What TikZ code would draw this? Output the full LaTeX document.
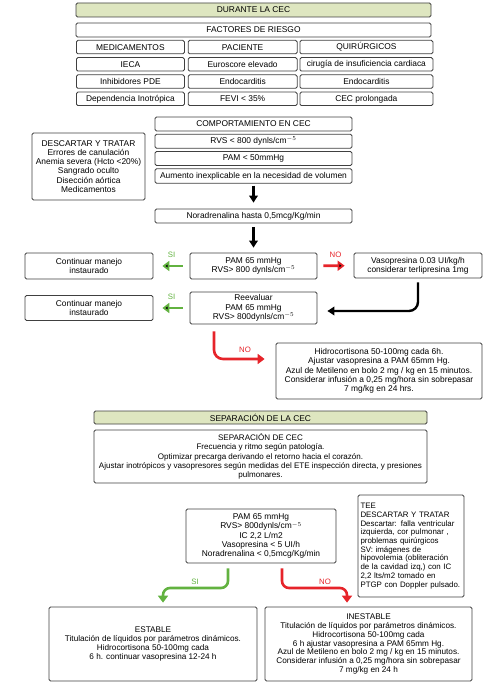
\documentclass[tikz,border=0pt]{standalone}
\usepackage{fontspec}
\setmainfont{Liberation Sans}
\usepackage{tikz}
\usetikzlibrary{arrows.meta,positioning}
\definecolor{headgreen}{RGB}{222,230,192}
\definecolor{sigreen}{RGB}{98,178,64}
\definecolor{nored}{RGB}{230,36,42}
\tikzset{box/.style={draw=black!75,line width=0.75pt,rounded corners=1.5pt,fill=white,align=center,inner sep=1pt,font=\fontsize{8.4}{9.2}\selectfont},
	head box/.style={box,fill=headgreen},
	cell/.style={box,minimum height=13.5pt},
	small box/.style={box,font=\fontsize{8.2}{8.9}\selectfont},
	down arrow/.style={draw,line width=2.4pt,-{Triangle[length=7pt,width=8.5pt]}},
	si arrow/.style={draw=sigreen,line width=2.6pt,-{Triangle[length=7pt,width=10pt]}},
	no arrow/.style={draw=nored,line width=2.6pt,-{Triangle[length=7pt,width=10pt]}},
	si label/.style={text=sigreen,font=\fontsize{7.8}{9}\selectfont,inner sep=1pt},
	no label/.style={text=nored,font=\fontsize{7.8}{9}\selectfont,inner sep=1pt},
}

\begin{document}
\begin{tikzpicture}[x=1pt,y=-1pt]
		\useasboundingbox (0,0) rectangle (500,684);
		% durante la CEC
		\node[head box,minimum width=355pt,minimum height=14pt] (durante) at (253.5,10) {DURANTE LA CEC};
		\node[box,minimum width=355pt,minimum height=14pt] (riesgo) at (253.5,30) {FACTORES DE RIESGO};
		
		\node[cell,minimum width=108pt,anchor=north west] (med) at (76,40) {MEDICAMENTOS};
		\node[cell,minimum width=109pt] (pac) [right=3pt of med] {PACIENTE};
		\node[cell,minimum width=133pt] (qui) [right=2pt of pac] {QUIRÚRGICOS};
		\node[cell,minimum width=108pt] (ieca) [below=3pt of med] {IECA};
		\node[cell,minimum width=109pt] (euro) [below=3pt of pac] {Euroscore elevado};
		\node[cell,minimum width=133pt] (cirugia) [below=3pt of qui] {cirugía de insuficiencia cardiaca};
		\node[cell,minimum width=108pt] (pde) [below=3pt of ieca] {Inhibidores PDE};
		\node[cell,minimum width=109pt] (endo1) [below=3pt of euro] {Endocarditis};
		\node[cell,minimum width=133pt] (endo2) [below=3pt of cirugia] {Endocarditis};
		\node[cell,minimum width=108pt] (dep) [below=3pt of pde] {Dependencia Inotrópica};
		\node[cell,minimum width=109pt] (fevi) [below=3pt of endo1] {FEVI < 35\%};
		\node[cell,minimum width=133pt] (prolong) [below=3pt of endo2] {CEC prolongada};
		
		\node[box,minimum width=197pt,minimum height=14pt] (compo) at (253.5,124) {COMPORTAMIENTO EN CEC};
		\node[box,minimum width=197pt,minimum height=14pt] (rvs) [below=2.5pt of compo] {RVS < 800 dynls/cm$^{-5}$};
		\node[box,minimum width=197pt,minimum height=14pt] (pam) [below=2.5pt of rvs] {PAM < 50mmHg};
		\node[box,minimum width=197pt,minimum height=14.5pt] (aumento) [below=2.5pt of pam] {Aumento inexplicable en la necesidad de volumen};
		\node[box,minimum width=113pt,minimum height=67pt] (descartar) at (88.5,166.5) {DESCARTAR Y TRATAR\\Errores de canulación\\Anemia severa (Hcto <20\%)\\Sangrado oculto\\Disección aórtica\\Medicamentos};
		
		\node[box,minimum width=197pt,minimum height=14pt] (nora) at (253.5,216) {Noradrenalina hasta 0,5mcg/Kg/min};
		\node[box,minimum width=127pt,minimum height=26pt] (pam65) at (253.5,266) {PAM 65 mmHg\\RVS> 800 dynls/cm$^{-5}$};
		\node[box,minimum width=128pt,minimum height=26pt] (cont1) at (89,266) {Continuar manejo\\instaurado};
		\node[box,minimum width=128pt,minimum height=25pt] (vaso) at (418,265.5) {Vasopresina 0.03 UI/kg/h\\considerar terlipresina 1mg};
		\node[box,minimum width=127pt,minimum height=32pt] (reev) at (253.5,308) {Reevaluar\\PAM 65 mmHg\\RVS> 800dynls/cm$^{-5}$};
		\node[box,minimum width=128pt,minimum height=25pt] (cont2) at (89,308) {Continuar manejo\\instaurado};
		\node[box,minimum width=206pt,minimum height=56pt] (hidro) at (379,371) {Hidrocortisona 50-100mg cada 6h.\\Ajustar vasopresina a PAM 65mm Hg.\\Azul de Metileno en bolo 2 mg / kg en 15 minutos.\\Considerar infusión a 0,25 mg/hora sin sobrepasar\\7 mg/kg en 24 hrs.};
		
		\path[down arrow,shorten <=2pt,shorten >=6pt] (aumento) edge (nora);
		\path[down arrow,shorten <=4pt,shorten >=5pt] (nora) edge (pam65);
		\path[si arrow,shorten <=7pt,shorten >=9pt]
		(pam65) edge node[si label,above=6pt] (si1) {SI} (cont1)
		(reev) edge node[si label,above=6pt] (si2) {SI} (cont2);
		\path[no arrow,shorten <=6pt,shorten >=9pt]
		(pam65) edge node[no label,above=6pt] (no1) {NO} (vaso);
		\draw[down arrow,rounded corners=9pt,shorten <=4pt,shorten >=10pt] (vaso.south) |- ([yshift=-3pt]reev.east);
		\coordinate (nobend) at (214,359);
		\draw[no arrow,rounded corners=9pt,shorten <=7pt,shorten >=11pt] (reev.south -| nobend) |- (hidro.west |- nobend);
		\node[no label] (no2) at (245,350) {NO};
		%%
		% separacion de la CEC
		\node[head box,minimum width=333pt,minimum height=13pt] (separa) at (260.5,417.5) {SEPARACIÓN DE LA CEC};
		\node[box,minimum width=333pt,minimum height=53pt,font=\fontsize{8.05}{9.3}\selectfont] (sepcec) at (260.5,456.5) {SEPARACIÓN DE CEC\\Frecuencia y ritmo según patología.\\Optimizar precarga derivando el retorno hacia el corazón.\\Ajustar inotrópicos y vasopresores según medidas del ETE inspección directa, y presiones\\pulmonares.};
		\node[box,minimum width=150pt,minimum height=54pt] (pamsep) at (261,536) {PAM 65 mmHg\\RVS> 800dynls/cm$^{-5}$\\IC 2,2 L/m2\\Vasopresina < 5 UI/h\\Noradrenalina < 0,5mcg/Kg/min};
		\node[small box,align=left,text width=101pt,inner sep=2.5pt,minimum height=102pt,font=\fontsize{7.9}{8.7}\selectfont] (tee) at (411,546) {TEE\\DESCARTAR Y TRATAR\\Descartar: falla ventricular\\izquierda, cor pulmonar ,\\problemas quirúrgicos\\SV: imágenes de\\hipovolemia (obliteración\\de la cavidad izq,) con IC\\2,2 lts/m2 tomado en\\PTGP con Doppler pulsado.};
		\node[small box,minimum width=208pt,minimum height=74pt] (estable) at (153,644) {ESTABLE\\Titulación de líquidos por parámetros dinámicos.\\Hidrocortisona 50-100mg cada\\6 h. continuar vasopresina 12-24 h};
		\node[small box,minimum width=207pt,minimum height=74pt] (inestable) at (368.5,644) {INESTABLE\\Titulación de líquidos por parámetros dinámicos.\\Hidrocortisona 50-100mg cada\\6 h ajustar vasopresina a PAM 65mm Hg.\\Azul de Metileno en bolo 2 mg / kg en 15 minutos.\\Considerar infusión a 0,25 mg/hora sin sobrepasar\\7 mg/kg en 24 h};
		
		\coordinate (sia) at (228,588);
		\coordinate (sib) at (163,588);
		\draw[si arrow,rounded corners=7pt,shorten <=5pt,shorten >=4pt] (pamsep.south -| sia) -- (sia) -- (sib) -- (estable.north -| sib);
		\coordinate (noa) at (282,588);
		\coordinate (nob) at (347,588);
		\draw[no arrow,rounded corners=7pt,shorten <=5pt,shorten >=4pt] (pamsep.south -| noa) -- (noa) -- (nob) -- (inestable.north -| nob);
		\node[si label] (si3) at (195,582) {SI};
		\node[no label] (no3) at (325,582) {NO};
	\end{tikzpicture}
\end{document}
